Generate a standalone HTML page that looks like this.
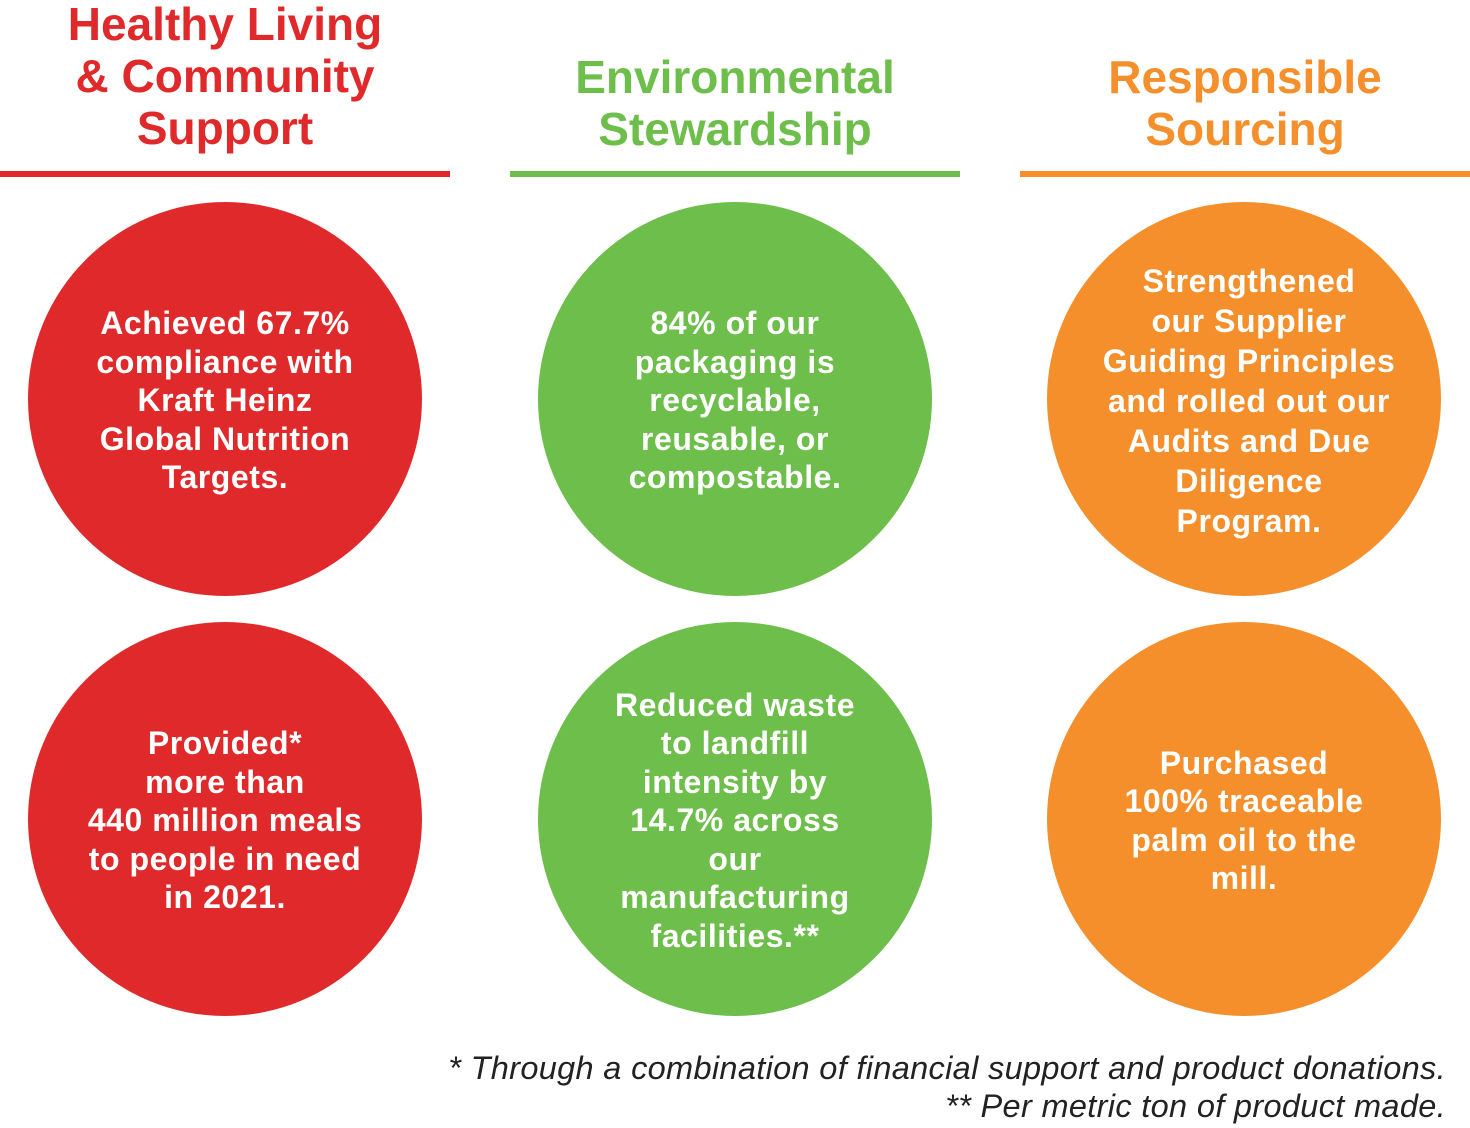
<!DOCTYPE html>
<html><head><meta charset="utf-8"><style>
html,body{margin:0;padding:0;background:#fff;}
body{width:1470px;height:1128px;position:relative;overflow:hidden;font-family:"Liberation Sans",Arial,sans-serif;}
.h{position:absolute;width:450px;text-align:center;font-weight:bold;font-size:46px;line-height:52px;}
.bar{position:absolute;top:171px;height:6px;width:450px;}
.c{position:absolute;width:394px;height:394px;border-radius:50%;display:flex;align-items:center;justify-content:center;text-align:center;color:#fff;font-weight:bold;font-size:32px;line-height:38.5px;letter-spacing:0.55px;box-sizing:border-box;padding-top:3px;}
.r{background:#e0292a;color:#fff}.g{background:#6dbe4b}.o{background:#f58f2c}
.fn{position:absolute;right:24px;font-style:italic;font-size:32.5px;line-height:38px;text-align:right;color:#222;letter-spacing:0.33px;}
</style></head><body>
<div class="h" style="left:0;top:-2px;color:#e0292a">Healthy Living<br>&amp; Community<br>Support</div>
<div class="h" style="left:510px;top:51px;color:#6dbe4b">Environmental<br>Stewardship</div>
<div class="h" style="left:1020px;top:51px;color:#f58f2c">Responsible<br>Sourcing</div>
<div class="bar" style="left:0;background:#e0292a"></div>
<div class="bar" style="left:510px;background:#6dbe4b"></div>
<div class="bar" style="left:1020px;background:#f58f2c"></div>

<div class="c r" style="left:28px;top:202px">Achieved 67.7%<br>compliance with<br>Kraft Heinz<br>Global Nutrition<br>Targets.</div>
<div class="c g" style="left:538px;top:202px">84% of our<br>packaging is<br>recyclable,<br>reusable, or<br>compostable.</div>
<div class="c o" style="left:1047px;top:202px;line-height:40px;padding-left:10px">Strengthened<br>our Supplier<br>Guiding Principles<br>and rolled out our<br>Audits and Due<br>Diligence<br>Program.</div>

<div class="c r" style="left:28px;top:622px">Provided*<br>more than<br>440 million meals<br>to people in need<br>in 2021.</div>
<div class="c g" style="left:538px;top:622px">Reduced waste<br>to landfill<br>intensity by<br>14.7% across<br>our<br>manufacturing<br>facilities.**</div>
<div class="c o" style="left:1047px;top:622px">Purchased<br>100% traceable<br>palm oil to the<br>mill.</div>

<div class="fn" style="top:1049px">* Through a combination of financial support and product donations.<br>** Per metric ton of product made.</div>
</body></html>
